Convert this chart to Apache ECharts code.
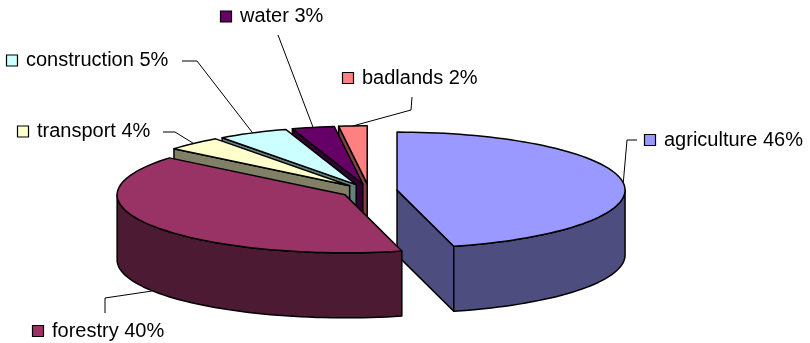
<!DOCTYPE html>
<html>
<head>
<meta charset="utf-8">
<script src="https://cdn.jsdelivr.net/npm/echarts@6/dist/echarts.min.js"></script>
<style>
  html, body { margin: 0; padding: 0; background: #ffffff; }
  #chart { width: 810px; height: 343px; }
</style>
</head>
<body>
<div id="chart"></div>
<script>
// Land use shares (percent), clockwise from 12 o'clock
const categories = ['agriculture', 'forestry', 'transport', 'construction', 'water', 'badlands'];
const shares = [46, 40, 4, 5, 3, 2];

// Slice colours: top face and shaded side walls
const topColors  = ['#9999FF', '#993366', '#FFFFCC', '#CCFFFF', '#660066', '#FF8080'];
const sideColors = ['#4D4D80', '#4D1A33', '#808066', '#668080', '#330033', '#804040'];

// Projected 3D pie geometry (pixels)
const geo = { cx: 369, cy: 191, rx: 228, ry: 58, depth: 65, explode: 0.124 };

// Label placement: legend-key box position and leader elbow points
const labelLayout = [
  { x: 644, y: 140,   path: [[637, 140], [627, 140]] },
  { x: 32,  y: 331,   path: [[105, 313], [105, 298]] },
  { x: 17,  y: 131.5, path: [[163, 132], [175, 132]] },
  { x: 6,   y: 60.5,  path: [[182, 61], [197, 61]] },
  { x: 220, y: 16.5,  path: [[278, 35]] },
  { x: 342, y: 78,    path: [[412, 97], [411, 110]] }
];

const total = shares.reduce((a, b) => a + b, 0);
const starts = [];
let acc = 0;
shares.forEach(v => { starts.push(acc); acc += v; });

const RAD = Math.PI / 180;
function rimPoint(c, deg, dy) {
  return [c[0] + geo.rx * Math.sin(deg * RAD), c[1] - geo.ry * Math.cos(deg * RAD) + (dy || 0)];
}
function midAngle(i) {
  return (starts[i] + shares[i] / 2) / total * 360;
}
// paint back slices first
const order = shares.map((_, i) => i).sort((a, b) => -Math.cos(midAngle(a) * RAD) + Math.cos(midAngle(b) * RAD));

function renderItem(params, api) {
  const i = params.dataIndex;
  const v = api.value(1);
  const a0 = starts[i] / total * 360;
  const a1 = a0 + v / total * 360;
  const mid = (a0 + a1) / 2;
  const c = [geo.cx + geo.explode * geo.rx * Math.sin(mid * RAD),
             geo.cy - geo.explode * geo.ry * Math.cos(mid * RAD)];
  const cb = [c[0], c[1] + geo.depth];
  const base = order.indexOf(i) * 10;
  const edge = { stroke: '#000000', lineWidth: 1.5, lineJoin: 'round' };
  const children = [];

  // radial cut faces that face the viewer
  [[a0, a0 - 90], [a1, a1 + 90]].forEach(([ang, nrm]) => {
    if (Math.cos(nrm * RAD) < -1e-6) {
      children.push({
        type: 'polygon', z2: base + 1,
        shape: { points: [c, rimPoint(c, ang), rimPoint(c, ang, geo.depth), cb] },
        style: Object.assign({ fill: sideColors[i] }, edge)
      });
    }
  });

  // curved outer wall, front half only
  const w0 = Math.max(a0, 90), w1 = Math.min(a1, 270);
  if (w1 > w0) {
    const n = Math.max(8, Math.ceil((w1 - w0) / 2));
    const top = [], bot = [];
    for (let k = 0; k <= n; k++) {
      const t = w0 + (w1 - w0) * k / n;
      top.push(rimPoint(c, t));
      bot.push(rimPoint(c, t, geo.depth));
    }
    children.push({
      type: 'polygon', z2: base + 2,
      shape: { points: top.concat(bot.reverse()) },
      style: Object.assign({ fill: sideColors[i] }, edge)
    });
  }

  // top face
  const n2 = Math.max(4, Math.ceil((a1 - a0) / 2));
  const face = [c];
  for (let k = 0; k <= n2; k++) face.push(rimPoint(c, a0 + (a1 - a0) * k / n2));
  children.push({
    type: 'polygon', z2: base + 3,
    shape: { points: face },
    style: Object.assign({ fill: topColors[i] }, edge)
  });

  // data label with legend key and leader line
  const lay = labelLayout[i];
  const anchor = Math.cos(mid * RAD) < 0 ? rimPoint(c, mid, geo.depth) : rimPoint(c, mid);
  children.push({
    type: 'polyline', z2: 1000,
    shape: { points: lay.path.concat([anchor]) },
    style: { stroke: '#000000', lineWidth: 1, fill: null }
  });
  children.push({
    type: 'rect', z2: 1001,
    shape: { x: lay.x + 0.5, y: lay.y - 5.5, width: 11, height: 11 },
    style: { fill: topColors[i], stroke: '#000000', lineWidth: 1.2 }
  });
  children.push({
    type: 'text', z2: 1001,
    x: lay.x + 20, y: lay.y,
    style: {
      text: api.value(2) + ' ' + v + '%',
      fill: '#000000',
      font: '20px "Liberation Sans", Arial, sans-serif',
      align: 'left', verticalAlign: 'middle'
    }
  });

  return { type: 'group', children };
}

const chart = echarts.init(document.getElementById('chart'), null, { renderer: 'canvas' });
chart.setOption({
  backgroundColor: '#ffffff',
  animation: false,
  series: [{
    type: 'custom',
    coordinateSystem: 'none',
    silent: true,
    renderItem: renderItem,
    data: shares.map((v, i) => ({ name: categories[i], value: [i, v, categories[i]] }))
  }]
});
</script>
</body>
</html>
